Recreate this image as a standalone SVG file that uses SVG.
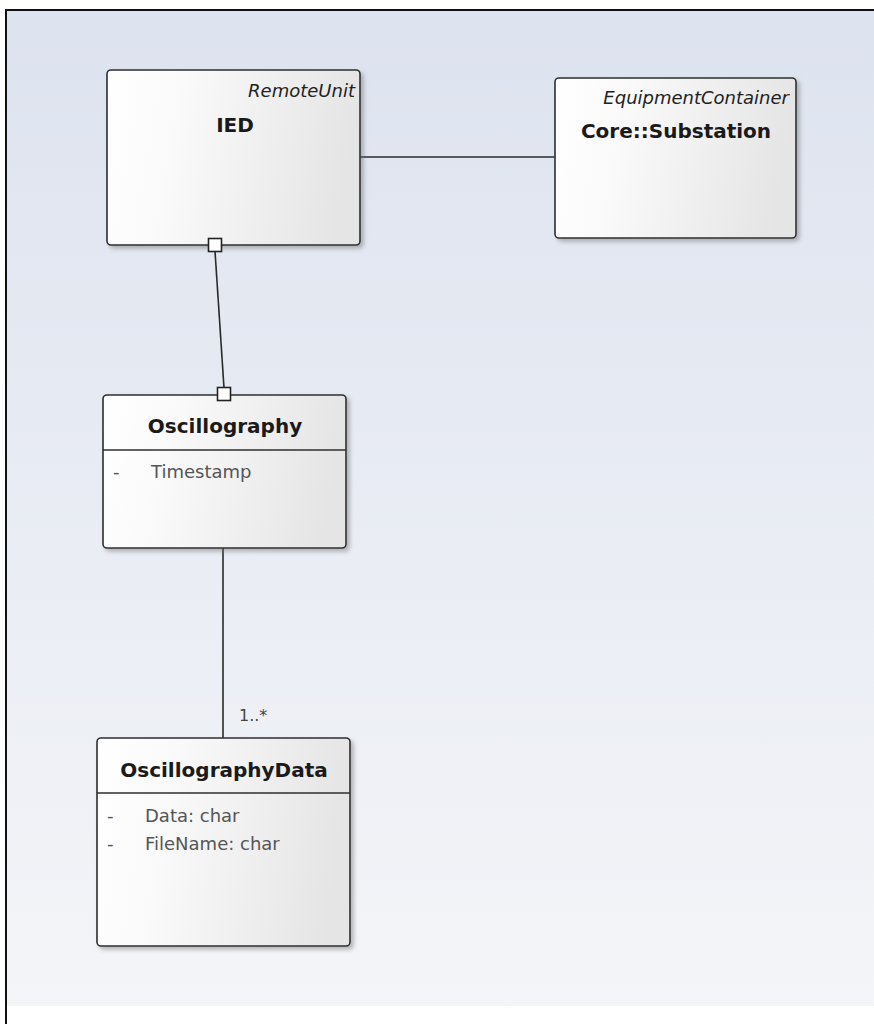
<svg xmlns="http://www.w3.org/2000/svg" width="874" height="1024" viewBox="0 0 874 1024">
  <defs>
    <linearGradient id="canvasFill" x1="0" y1="0" x2="0" y2="1">
      <stop offset="0" stop-color="#dde3ef"/>
      <stop offset="1" stop-color="#f4f5f8"/>
    </linearGradient>
    <linearGradient id="classFill" x1="0" y1="0" x2="1" y2="0.12">
      <stop offset="0" stop-color="#ffffff"/>
      <stop offset="0.3" stop-color="#fafafa"/>
      <stop offset="1" stop-color="#e5e5e5"/>
    </linearGradient>
    <filter id="shadow" x="-10%" y="-10%" width="125%" height="125%">
      <feDropShadow dx="3" dy="3" stdDeviation="2" flood-color="#6a6a6a" flood-opacity="0.45"/>
    </filter>
  </defs>
  <style>
    .box { fill: url(#classFill); stroke: #2e2e2e; stroke-width: 1.6; filter: url(#shadow); }
    .sep { stroke: #2e2e2e; stroke-width: 1.6; }
    .title { font-family: "DejaVu Sans", sans-serif; font-weight: bold; font-size: 20px; fill: #1a1a1a; text-anchor: middle; }
    .stereo { font-family: "DejaVu Sans", sans-serif; font-style: italic; font-size: 18px; fill: #222; text-anchor: end; }
    .attr { font-family: "DejaVu Sans", sans-serif; font-size: 18px; fill: #555; }
    .mult { font-family: "DejaVu Sans", sans-serif; font-size: 16px; fill: #444; }
    .link { stroke: #2a2a2a; stroke-width: 1.6; fill: none; }
    .end { fill: #ffffff; stroke: #222; stroke-width: 1.6; }
  </style>

  <!-- canvas -->
  <rect x="6" y="10" width="868" height="996" fill="url(#canvasFill)"/>
  <path d="M6 1024 V10 H874" fill="none" stroke="#111" stroke-width="2"/>

  <!-- connectors -->
  <g id="connectors">
    <line class="link" x1="360" y1="157" x2="555" y2="157"/>
    <line class="link" x1="215" y1="251" x2="224" y2="388"/>
    <line class="link" x1="223" y1="548" x2="223" y2="738"/>
    <text class="mult" x="239" y="721">1..*</text>
  </g>

  <g id="IED">
    <rect class="box" x="107" y="70" width="253" height="175" rx="4"/>
    <text class="stereo" x="355" y="97">RemoteUnit</text>
    <text class="title" x="235" y="132">IED</text>
    <rect class="end" x="208.5" y="238.5" width="13" height="13"/>
  </g>

  <g id="Substation">
    <rect class="box" x="555" y="78" width="241" height="160" rx="4"/>
    <text class="stereo" x="789" y="104">EquipmentContainer</text>
    <text class="title" x="676" y="138">Core::Substation</text>
  </g>

  <g id="Oscillography">
    <rect class="box" x="103" y="395" width="243" height="153" rx="4"/>
    <line class="sep" x1="103" y1="450" x2="346" y2="450"/>
    <text class="title" x="225" y="433">Oscillography</text>
    <text class="attr" x="113" y="478">-</text>
    <text class="attr" x="151" y="478">Timestamp</text>
    <rect class="end" x="217.5" y="387.5" width="13" height="13"/>
  </g>

  <g id="OscillographyData">
    <rect class="box" x="97" y="738" width="253" height="208" rx="4"/>
    <line class="sep" x1="97" y1="793" x2="350" y2="793"/>
    <text class="title" x="224" y="777">OscillographyData</text>
    <text class="attr" x="107" y="822">-</text>
    <text class="attr" x="145" y="822">Data: char</text>
    <text class="attr" x="107" y="850">-</text>
    <text class="attr" x="145" y="850">FileName: char</text>
  </g>
</svg>
